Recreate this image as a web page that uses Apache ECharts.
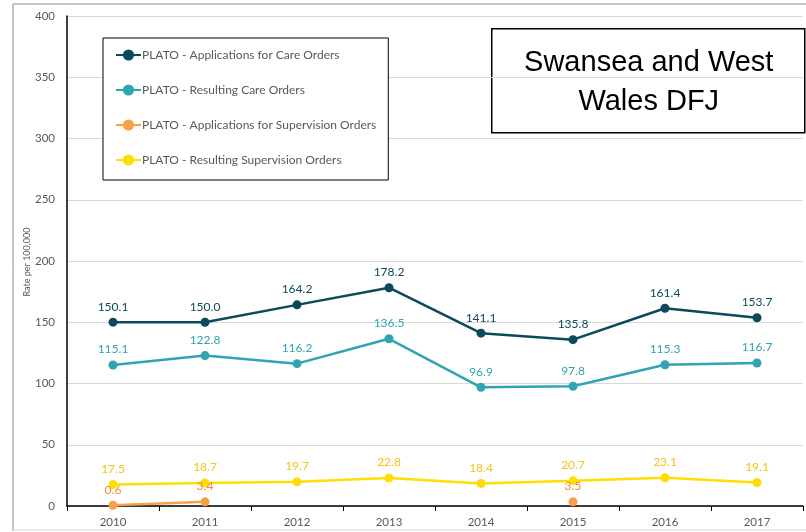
<!DOCTYPE html>
<html>
<head>
<meta charset="utf-8">
<script src="https://cdn.jsdelivr.net/npm/echarts@6/dist/echarts.min.js"></script>
<style>
	html, body { margin: 0; padding: 0; background: #fff; }
	#main { width: 806px; height: 532px; }
</style>
</head>
<body>
<div id="main"></div>
<script>
	// 年份
	var years = ['2010', '2011', '2012', '2013', '2014', '2015', '2016', '2017'];
	// 各系列数据
	var appCare = [150.1, 150.0, 164.2, 178.2, 141.1, 135.8, 161.4, 153.7];
	var resCare = [115.1, 122.8, 116.2, 136.5, 96.9, 97.8, 115.3, 116.7];
	var appSup = [0.6, 3.4, null, null, null, 3.5, null, null];
	var resSup = [17.5, 18.7, 19.7, 22.8, 18.4, 20.7, 23.1, 19.1];
	var names = [
		'PLATO - Applications for Care Orders',
		'PLATO - Resulting Care Orders',
		'PLATO - Applications for Supervision Orders',
		'PLATO - Resulting Supervision Orders'
	];
	var colors = ['#0c4a5b', '#31a4b1', '#f7a04a', '#ffde00'];
	var labelColors = ['#0c4a5b', '#31a4b1', '#f08a3c', '#f7c21a'];

	var font = 'Lato, "Open Sans", sans-serif';

	function mkSeries(i, data){
		return {
			name: names[i],
			type: 'line',
			data: data,
			symbol: 'circle',
			symbolSize: 9,
			connectNulls: false,
			lineStyle: { width: 2.5, color: colors[i] },
			itemStyle: { color: colors[i] },
			label: {
				show: true,
				position: 'top',
				distance: 5,
				color: labelColors[i],
				fontSize: 12,
				fontFamily: font,
				formatter: function(p){ return p.value == null ? '' : p.value.toFixed(1); }
			},
			z: 10 - i
		};
	}

	var chart = echarts.init(document.getElementById('main'));
	chart.setOption({
		animation: false,
		backgroundColor: '#fff',
		grid: { left: 67, right: 3, top: 16, bottom: 26 },
		legend: {
			orient: 'vertical',
			left: 103,
			top: 38,
			padding: [11, 12, 14, 12],
			itemGap: 23,
			itemWidth: 25,
			itemHeight: 14,
			borderColor: '#000',
			borderWidth: 1,
			backgroundColor: '#fff',
			textStyle: { color: '#595959', fontSize: 12, fontFamily: font, padding: [0, 0, 0, -4] },
			data: names
		},
		xAxis: {
			type: 'category',
			data: years,
			boundaryGap: true,
			axisLine: { lineStyle: { color: '#000', width: 1.5 } },
			axisTick: { show: true, length: 5, lineStyle: { color: '#000' } },
			axisLabel: { color: '#595959', fontSize: 11.5, fontFamily: font, margin: 10 }
		},
		yAxis: {
			type: 'value',
			min: 0,
			max: 400,
			interval: 50,
			axisLine: { show: true, lineStyle: { color: '#000', width: 1.5 } },
			axisTick: { show: false },
			axisLabel: { color: '#595959', fontSize: 11.5, fontFamily: font, margin: 12 },
			splitLine: { lineStyle: { color: '#d9d9d9' } }
		},
		graphic: [
			{
				type: 'polyline',
				shape: { points: [[13, 531], [13, 4], [806, 4]] },
				style: { stroke: '#8c8c8c', fill: null, lineWidth: 1 },
				silent: true
			},
			{
				type: 'line',
				shape: { x1: 13, y1: 530, x2: 806, y2: 530 },
				style: { stroke: '#d9d9d9', lineWidth: 1 },
				silent: true
			},
			{
				// 纵轴标题
				type: 'text',
				x: 27,
				y: 262,
				rotation: Math.PI / 2,
				style: {
					text: 'Rate per 100,000',
					fill: '#595959',
					font: '9px Lato, "Open Sans", sans-serif',
					align: 'center',
					verticalAlign: 'middle'
				},
				silent: true
			},
			{
				type: 'group',
				left: 491,
				top: 28,
				z: 100,
				children: [
					{
						type: 'rect',
						shape: { x: 0, y: 0, width: 313, height: 104 },
						style: { fill: '#fff', stroke: '#000', lineWidth: 1.5 }
					},
					{
						type: 'text',
						x: 157,
						y: 54,
						style: {
							text: 'Swansea and West\nWales DFJ',
							fill: '#000',
							font: '29px "Liberation Sans", Arial, sans-serif',
							align: 'center',
							verticalAlign: 'middle',
							lineHeight: 39
						}
					}
				]
			}
		],
		series: [
			mkSeries(0, appCare),
			mkSeries(1, resCare),
			mkSeries(2, appSup),
			mkSeries(3, resSup)
		]
	});
</script>
</body>
</html>
